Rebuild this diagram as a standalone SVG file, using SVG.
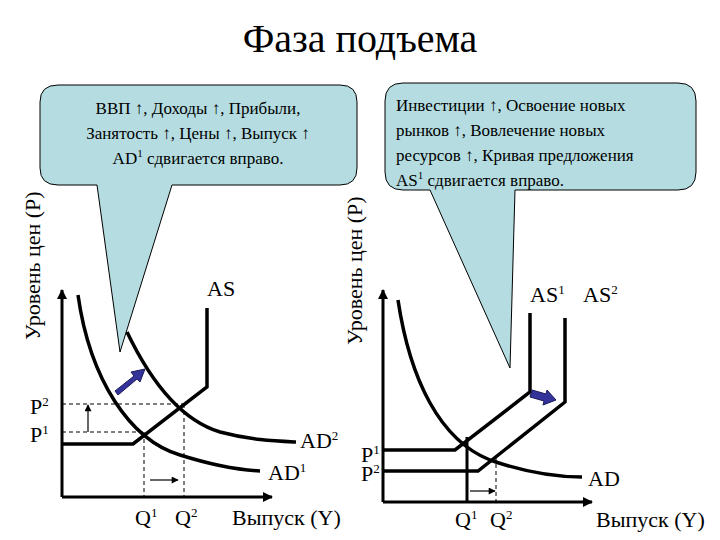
<svg xmlns="http://www.w3.org/2000/svg" width="720" height="540" viewBox="0 0 720 540" font-family="'Liberation Serif', 'DejaVu Serif', serif">
<defs>
<style>
text{font-family:"Liberation Serif","DejaVu Serif",serif;fill:#000}
.c{fill:none;stroke:#000;stroke-width:3.5}
.ax{fill:none;stroke:#000;stroke-width:3}
.d{fill:none;stroke:#000;stroke-width:1;stroke-dasharray:4 3}
.t{stroke:#000;stroke-width:1.2;fill:none}
.call{fill:#b5dde1;stroke:#000;stroke-width:1}
.lab{font-size:22px}
.cap{font-size:17px}
</style>
<marker id="ah" viewBox="0 0 10 10" refX="9" refY="5" markerWidth="12" markerHeight="10" markerUnits="userSpaceOnUse" orient="auto"><path d="M0,0L10,5L0,10z" fill="#000"/></marker>
<marker id="ah2" viewBox="0 0 10 10" refX="9" refY="5" markerWidth="8" markerHeight="7" markerUnits="userSpaceOnUse" orient="auto"><path d="M0,0L10,5L0,10z" fill="#000"/></marker>
</defs>
<rect width="720" height="540" fill="#fff"/>
<text x="360" y="52" font-size="40" text-anchor="middle">Фаза подъема</text>

<g id="callout-left">
<path class="call" d="M58,85 H340 Q357,85 357,102 V168 Q357,185 340,185 H172 L120,352 L97,185 H58 Q40,185 40,168 V102 Q40,85 58,85 Z"/>
<text class="cap" text-anchor="middle" x="198" y="114">ВВП ↑, Доходы ↑, Прибыли,</text>
<text class="cap" text-anchor="middle" x="198" y="139">Занятость ↑, Цены ↑, Выпуск ↑</text>
<text class="cap" text-anchor="middle" x="198" y="164">AD<tspan font-size="11" dy="-7">1</tspan><tspan dy="7"> сдвигается вправо.</tspan></text>
</g>
<g id="callout-right">
<path class="call" d="M403,83 H678 Q696,83 696,101 V172 Q696,190 678,190 H515 L510,368 L430,190 H403 Q385,190 385,172 V101 Q385,83 403,83 Z"/>
<text class="cap" x="396" y="111">Инвестиции ↑, Освоение новых</text>
<text class="cap" x="396" y="136">рынков ↑, Вовлечение новых</text>
<text class="cap" x="396" y="161">ресурсов ↑, Кривая предложения</text>
<text class="cap" x="396" y="186">AS<tspan font-size="11" dy="-7">1</tspan><tspan dy="7"> сдвигается вправо.</tspan></text>
</g>

<g id="connectors">
<line class="ax" x1="62" y1="497" x2="62" y2="290" marker-end="url(#ah)"/>
<line class="ax" x1="62" y1="497" x2="272" y2="497" marker-end="url(#ah)"/>
<line class="ax" x1="383" y1="502" x2="383" y2="290" marker-end="url(#ah)"/>
<line class="ax" x1="383" y1="502" x2="592" y2="502" marker-end="url(#ah)"/>
</g>

<g id="left-chart">
<text class="lab" transform="translate(40,340) rotate(-90)">Уровень цен (P)</text>
<path class="c" d="M78,295 C90,380 130,440 180,455 C215,466 240,470 260,471"/>
<path class="c" d="M127,332 C150,380 180,420 220,432 C250,440 275,441 296,442"/>
<path class="c" d="M62,444 H133 L207,387 V308"/>
<line class="d" x1="62" y1="404" x2="184" y2="404"/>
<line class="d" x1="62" y1="432" x2="144" y2="432"/>
<line class="d" x1="144" y1="432" x2="144" y2="497"/>
<line class="d" x1="184" y1="404" x2="184" y2="497"/>
<line class="t" x1="88" y1="432" x2="88" y2="405" marker-end="url(#ah2)"/>
<line class="t" x1="150" y1="480" x2="178" y2="480" marker-end="url(#ah2)"/>
<path d="M115,391 L134,376 L131,372 L145,369 L140,382 L137,379 L118,395 Z" fill="#33339a" stroke="#1a1a5a"/>
<text class="lab" x="207" y="296">AS</text>
<text class="lab" x="30" y="414">P<tspan font-size="13" dy="-8">2</tspan></text>
<text class="lab" x="30" y="442">P<tspan font-size="13" dy="-8">1</tspan></text>
<text class="lab" x="300" y="448">AD<tspan font-size="13" dy="-8">2</tspan></text>
<text class="lab" x="268" y="480">AD<tspan font-size="13" dy="-8">1</tspan></text>
<text class="lab" x="135" y="525">Q<tspan font-size="13" dy="-8">1</tspan></text>
<text class="lab" x="175" y="525">Q<tspan font-size="13" dy="-8">2</tspan></text>
<text class="lab" x="232" y="525">Выпуск (Y)</text>
</g>

<g id="right-chart">
<text class="lab" transform="translate(362,345) rotate(-90)">Уровень цен (P)</text>
<path class="c" d="M398,300 C410,380 440,440 490,460 C530,474 560,477 582,477"/>
<path class="c" d="M383,450 H455 L530,392 V313"/>
<path class="c" d="M383,471 H478 L565,402 V318"/>
<line x1="467" y1="437" x2="467" y2="502" stroke="#000" stroke-width="3"/>
<line class="d" x1="496" y1="457" x2="496" y2="502"/>
<line class="t" x1="470" y1="491" x2="495" y2="491" marker-end="url(#ah2)"/>
<path d="M532,390 L546,394 L547,390 L556,400 L543,405 L544,401 L530,397 Z" fill="#33339a" stroke="#1a1a5a"/>
<text class="lab" x="530" y="302">AS<tspan font-size="13" dy="-8">1</tspan></text>
<text class="lab" x="583" y="302">AS<tspan font-size="13" dy="-8">2</tspan></text>
<text class="lab" x="361" y="462">P<tspan font-size="13" dy="-8">1</tspan></text>
<text class="lab" x="361" y="481">P<tspan font-size="13" dy="-8">2</tspan></text>
<text class="lab" x="588" y="486">AD</text>
<text class="lab" x="455" y="527">Q<tspan font-size="13" dy="-8">1</tspan></text>
<text class="lab" x="490" y="527">Q<tspan font-size="13" dy="-8">2</tspan></text>
<text class="lab" x="596" y="527">Выпуск (Y)</text>
</g>
</svg>
